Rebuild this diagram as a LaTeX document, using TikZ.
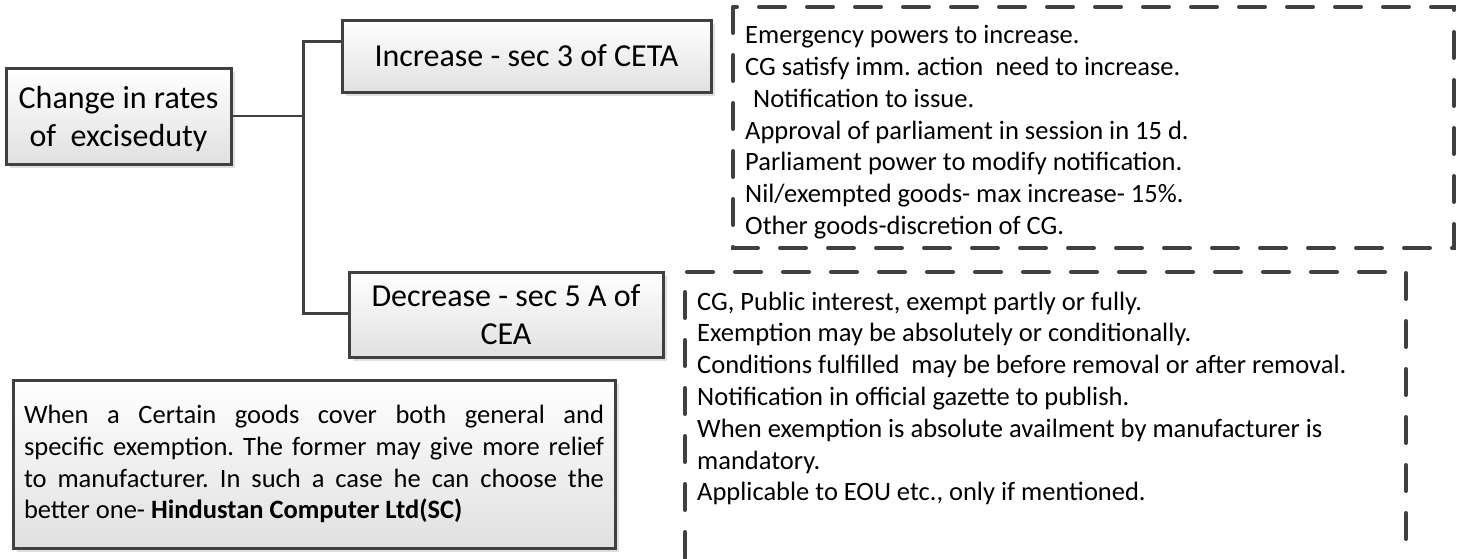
\documentclass[tikz,border=0pt]{standalone}
\usepackage{fontspec}
\setmainfont{Carlito}
\usetikzlibrary{positioning,shadows}
\frenchspacing

\definecolor{edgegray}{HTML}{404040}
\newcommand{\bigtext}{\fontsize{32}{38}\selectfont}
\newcommand{\smalltext}{\fontsize{26.5}{31.8}\selectfont}

\tikzset{
  box/.style={draw=edgegray, line width=3pt, top color=white, bottom color=black!12,
    drop shadow={shadow xshift=4pt, shadow yshift=-4pt, fill=black!25, opacity=0.5},
    align=center, inner sep=0pt, font=\bigtext},
  link/.style={draw=edgegray, line width=3pt},
  frame/.style={draw=edgegray, line width=4pt, line cap=round, dash pattern=on 26pt off 22pt},
  notes/.style={anchor=north west, align=left, inner sep=0pt, font=\smalltext}
}

\begin{document}
\begin{tikzpicture}[x=1pt, y=-1pt]
    \useasboundingbox (0,0) rectangle (1465,558);

    % solid boxes
    \node (rates) at (118.5,116) [box, minimum width=225pt, minimum height=96pt, text depth=0pt] {Change in rates\\of\ \ exciseduty};
    \node (inc) at (526.5,56) [box, minimum width=369pt, minimum height=72pt] {Increase - sec 3 of CETA};
    \node (dec) at (506,314.5) [box, minimum width=314pt, minimum height=85pt] {Decrease - sec 5 A of\\CEA};
    \node (case) at (314,464) [box, minimum width=602pt, minimum height=168pt, text width=580pt, align=justify, font=\smalltext]
        {When a Certain goods cover both general and\linebreak specific exemption. The former may give more relief\linebreak to manufacturer. In such a case he can choose the\linebreak better one- \textbf{Hindustan Computer Ltd(SC)}};

    % connectors
    \coordinate (fork) at (303,116);
    \coordinate (busTop) at (303,41);
    \coordinate (busBot) at (303,313);
    \draw [link, line width=2.2pt] (rates.east |- fork) -- (fork);
    \draw [link] (busTop -| inc.west) -- (busTop) -- (busBot) -- (busBot -| dec.west);

    % dashed note frames
    \draw [frame] (733,7) rectangle (1454,248);
    \draw [frame] (685,558) -- (685,272) -- (1406,272) -- (1406,558);

    \node (incnotes) at (745,25.3) [notes] {Emergency powers to increase.\\
        CG satisfy imm. action\ \ need to increase.\\
        \hspace*{0.3em}Notification to issue.\\
        Approval of parliament in session in 15 d.\\
        Parliament power to modify notification.\\
        Nil/exempted goods- max increase- 15\%.\\
        Other goods-discretion of CG.};

    \node (decnotes) at (697,291.5) [notes] {CG, Public interest, exempt partly or fully.\\
        Exemption may be absolutely or conditionally.\\
        Conditions fulfilled\ \ may be before removal or after removal.\\
        Notification in official gazette to publish.\\
        When exemption is absolute availment by manufacturer is\\
        mandatory.\\
        Applicable to EOU etc., only if mentioned.};

\end{tikzpicture}
\end{document}
